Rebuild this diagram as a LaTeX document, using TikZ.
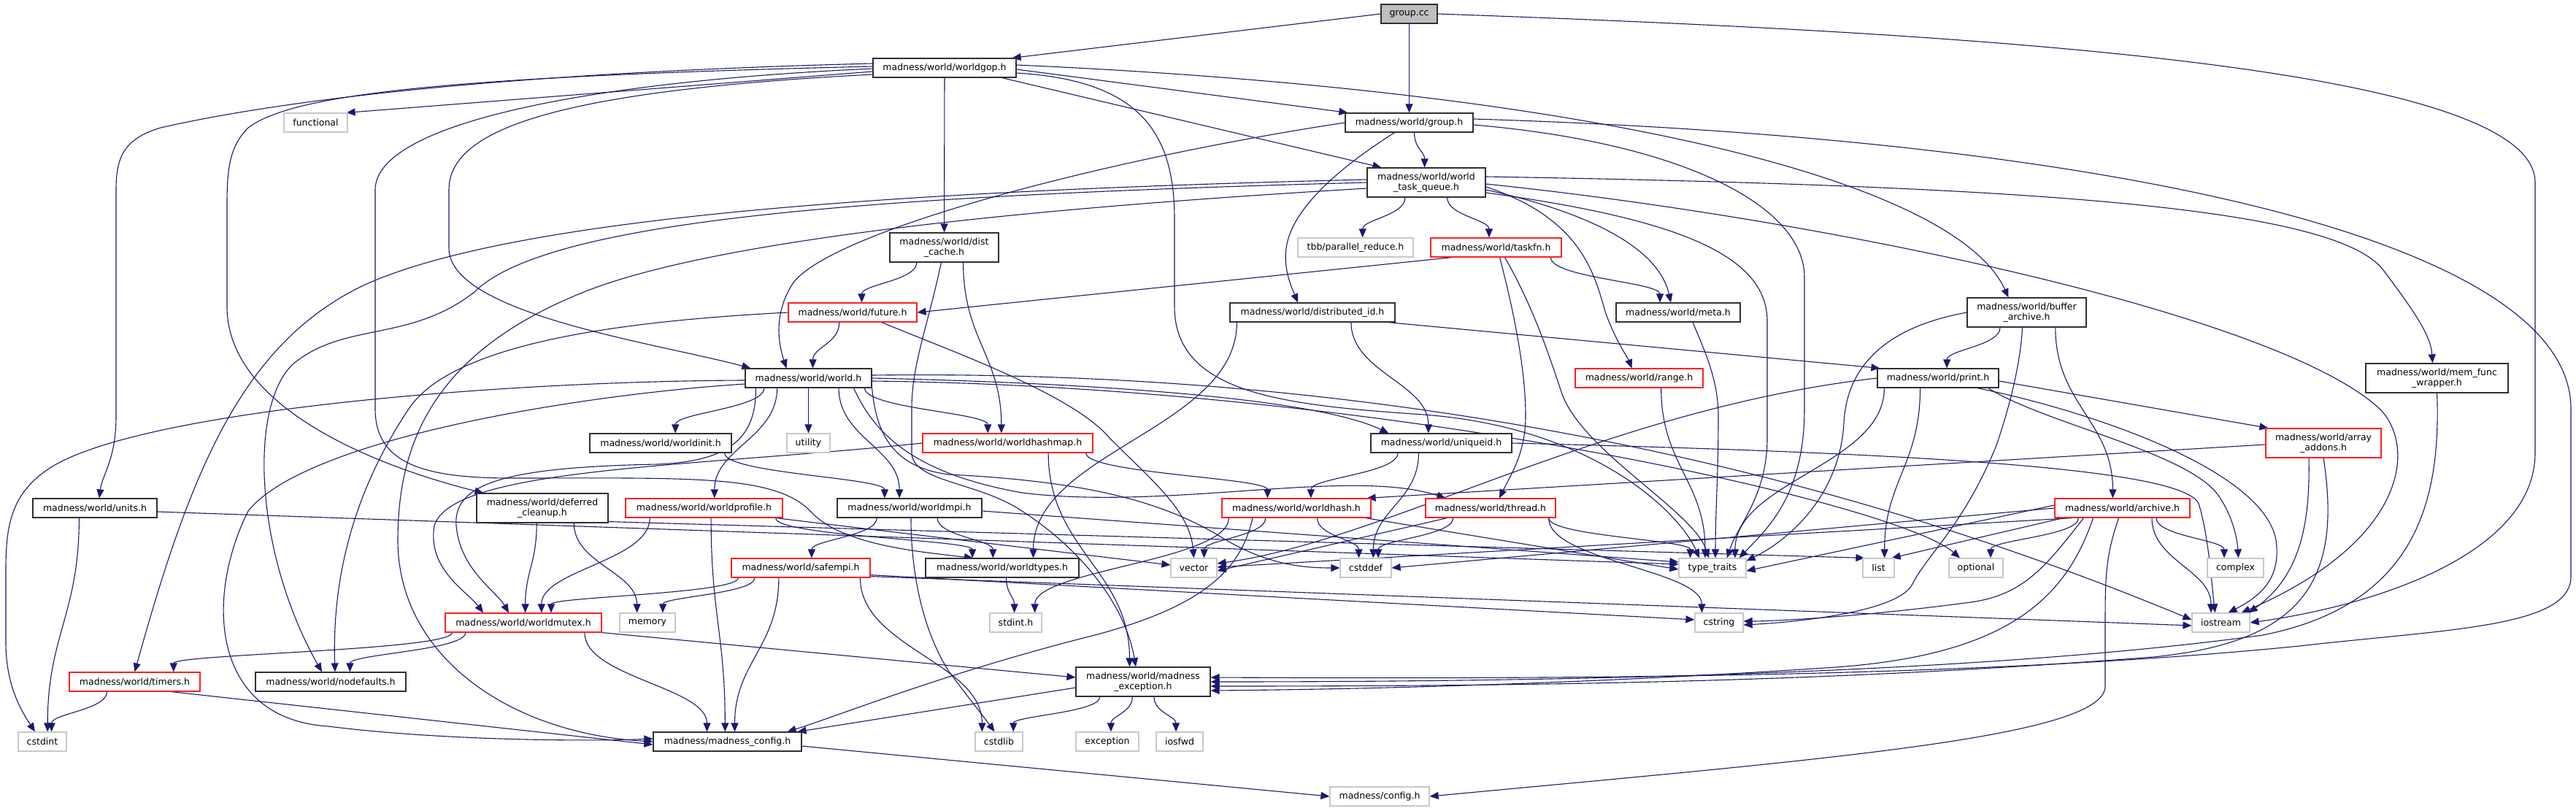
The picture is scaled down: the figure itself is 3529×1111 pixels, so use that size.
\documentclass[tikz,border=0pt]{standalone}
\usepackage{fontspec}
\setmainfont{DejaVu Sans}
\usetikzlibrary{arrows.meta,calc}
\definecolor{edgecol}{HTML}{191970}
\definecolor{redb}{HTML}{FF2020}
\definecolor{grayb}{HTML}{C8C8C8}
\definecolor{rootfill}{HTML}{BFBFBF}
\definecolor{darkb}{HTML}{303030}
\pgfdeclarelayer{edgelayer}
\pgfsetlayers{edgelayer,main}
\newcommand\edg[2]{%
  \draw[conn] let \p1=(#1.south), \p2=(#2.north), \p3=(#1.south east), \p4=(#2.north east),
    \n1={max(2*\x1-\x3+10pt,min(\x3-10pt,\x1+0.3*(\x2-\x1)))},
    \n2={max(2*\x2-\x4+10pt,min(\x4-10pt,\x2+0.1*(\x1-\x2)))},
    \n3={0.45*(\y1-\y2)}
  in (\n1,\y1) .. controls (\n1,\y1-\n3) and (\n2,\y2+\n3) .. (\n2,\y2);}
\begin{document}
\begin{tikzpicture}[x=1pt,y=-1pt,
  nbase/.style={rectangle, inner sep=0pt, minimum height=26pt, font=\fontsize{12.5}{14.5}\selectfont, align=center, line width=1.2pt, fill=white, text=black},
  nd/.style={nbase, draw=darkb},
  rd/.style={nbase, draw=redb},
  gy/.style={nbase, draw=grayb},
  rootbox/.style={nbase, draw=darkb, fill=rootfill},
  two/.style={minimum height=40pt},
  conn/.style={draw=edgecol, line width=1.1pt, -{Triangle[length=12pt,width=10pt]}}]
\useasboundingbox (0,0) rectangle (3529,1111);

\node[rootbox, minimum width=77pt] (gcc) at (1930.5,19) {group.cc};
\node[nd, minimum width=196pt] (worldgop) at (1294,93) {madness/world/worldgop.h};
\node[gy, minimum width=87pt] (functional) at (432.5,168) {functional};
\node[nd, minimum width=175pt] (grouph) at (1930.5,168) {madness/world/group.h};
\node[nd, two, minimum width=162pt] (taskq) at (1954,250) {madness/world/world\\\_task\_queue.h};
\node[nd, two, minimum width=149pt] (distcache) at (1293.5,339) {madness/world/dist\\\_cache.h};
\node[gy, minimum width=158pt] (tbb) at (1857,339) {tbb/parallel\_reduce.h};
\node[rd, minimum width=179pt] (taskfn) at (2049.5,339) {madness/world/taskfn.h};
\node[rd, minimum width=176pt] (future) at (1168,428) {madness/world/future.h};
\node[nd, minimum width=226pt] (distid) at (1798,428) {madness/world/distributed\_id.h};
\node[nd, minimum width=170pt] (meta) at (2299,428) {madness/world/meta.h};
\node[nd, two, minimum width=163pt] (bufarch) at (2776.5,428) {madness/world/buffer\\\_archive.h};
\node[nd, minimum width=173pt] (world) at (1107.5,518) {madness/world/world.h};
\node[rd, minimum width=175pt] (range) at (2245.5,518) {madness/world/range.h};
\node[nd, minimum width=166pt] (print) at (2655,518) {madness/world/print.h};
\node[nd, two, minimum width=195pt] (memfunc) at (3338.5,518) {madness/world/mem\_func\\\_wrapper.h};
\node[nd, minimum width=194pt] (worldinit) at (905,607) {madness/world/worldinit.h};
\node[gy, minimum width=59pt] (utility) at (1107.5,607) {utility};
\node[rd, minimum width=233pt] (worldhashmap) at (1380.5,607) {madness/world/worldhashmap.h};
\node[nd, minimum width=193pt] (uniqueid) at (1974.5,607) {madness/world/uniqueid.h};
\node[rd, two, minimum width=158pt] (arrayaddons) at (3183,607) {madness/world/array\\\_addons.h};
\node[nd, minimum width=170pt] (units) at (130,696) {madness/world/units.h};
\node[nd, two, minimum width=180pt] (deferred) at (743,696) {madness/world/deferred\\\_cleanup.h};
\node[rd, minimum width=215pt] (worldprofile) at (964.5,696) {madness/world/worldprofile.h};
\node[nd, minimum width=198pt] (worldmpi) at (1246,696) {madness/world/worldmpi.h};
\node[rd, minimum width=204pt] (worldhash) at (1776,696) {madness/world/worldhash.h};
\node[rd, minimum width=178pt] (thread) at (2042,696) {madness/world/thread.h};
\node[rd, minimum width=185pt] (archive) at (2907.5,696) {madness/world/archive.h};
\node[rd, minimum width=190pt] (safempi) at (1097,778) {madness/world/safempi.h};
\node[nd, minimum width=210pt] (worldtypes) at (1373,778) {madness/world/worldtypes.h};
\node[gy, minimum width=63pt] (vector) at (1635.5,778) {vector};
\node[gy, minimum width=70pt] (cstddef) at (1871,778) {cstddef};
\node[gy, minimum width=92pt] (typetraits) at (2346,778) {type\_traits};
\node[gy, minimum width=43pt] (list) at (2573.5,778) {list};
\node[gy, minimum width=74pt] (optional) at (2707,778) {optional};
\node[gy, minimum width=77pt] (complex) at (3062.5,778) {complex};
\node[rd, minimum width=214pt] (worldmutex) at (717,853) {madness/world/worldmutex.h};
\node[gy, minimum width=76pt] (memory) at (887,853) {memory};
\node[gy, minimum width=71pt] (stdint) at (1391.5,853) {stdint.h};
\node[gy, minimum width=66pt] (cstring) at (2355,853) {cstring};
\node[gy, minimum width=79pt] (iostream) at (3042.5,853) {iostream};
\node[rd, minimum width=179pt] (timers) at (184.5,934) {madness/world/timers.h};
\node[nd, minimum width=206pt] (nodefaults) at (453,934) {madness/world/nodefaults.h};
\node[nd, two, minimum width=184pt] (mexc) at (1566,934) {madness/world/madness\\\_exception.h};
\node[nd, minimum width=203pt] (mconfig) at (996.5,1016) {madness/madness\_config.h};
\node[gy, minimum width=65pt] (cstdlib) at (1368.5,1016) {cstdlib};
\node[gy, minimum width=86pt] (exception) at (1517,1016) {exception};
\node[gy, minimum width=64pt] (iosfwd) at (1616,1016) {iosfwd};
\node[gy, minimum width=66pt] (cstdint) at (58,1016) {cstdint};
\node[gy, minimum width=136pt] (configh) at (1890,1091) {madness/config.h};

\begin{pgfonlayer}{edgelayer}
\fill[white] (0,0) rectangle (3529,1111);
% group.cc
\draw[conn] (gcc.west) -- ([xshift=-6pt]worldgop.north east);
\draw[conn] (gcc) -- (grouph);
\draw[conn] (gcc.east) .. controls (2700,45) and (3473,90) .. (3473,250) -- (3473,620) .. controls (3473,760) and (3250,830) .. (iostream.east);
% worldgop
\draw[conn] ([yshift=-5pt]worldgop.west) -- ([xshift=-2pt]functional.north east);
\draw[conn] ([yshift=6pt]worldgop.west) .. controls (600,102) and (330,150) .. (220,175) .. controls (170,190) and (159,215) .. (159,260) -- (159,570) .. controls (159,630) and (140,650) .. ([xshift=6pt]units.north);
\draw[conn] ([yshift=2pt]worldgop.west) .. controls (600,105) and (400,130) .. (340,175) .. controls (315,200) and (311,230) .. (311,280) -- (311,420) .. controls (311,560) and (520,640) .. ([xshift=10pt]deferred.north west);
\draw[conn] ([yshift=-1pt]worldgop.west) .. controls (800,112) and (514,170) .. (514,260) -- (514,560) .. controls (514,635) and (580,655) .. (700,655) .. controls (950,655) and (1060,650) .. (1110,700) .. controls (1150,745) and (1250,755) .. ([xshift=-40pt]worldtypes.north);
\draw[conn] ([yshift=-9pt]worldgop.west) .. controls (750,125) and (615,180) .. (615,260) -- (615,340) .. controls (615,430) and (900,470) .. ([xshift=8pt]world.north west);
\draw[conn] (worldgop) -- (distcache);
\draw[conn] ([yshift=-2pt]worldgop.east) -- ([xshift=4pt]grouph.north west);
\draw[conn] ([xshift=-20pt]worldgop.south east) -- ([xshift=20pt]taskq.north west);
\draw[conn] ([yshift=4pt]worldgop.east) .. controls (2200,125) and (2680,250) .. ([xshift=-25pt]bufarch.north);
\draw[conn] ([yshift=-7pt]worldgop.east) .. controls (1560,110) and (1609,180) .. (1609,300) -- (1609,420) .. controls (1609,540) and (1760,555) .. (1950,568) .. controls (2180,585) and (2300,700) .. ([xshift=-18pt]typetraits.north);
% group.h
\edg{grouph}{taskq}
\draw[conn] ([xshift=-20pt]grouph.south) .. controls (1850,220) and (1770,280) .. (1762,340) .. controls (1758,370) and (1770,395) .. ([xshift=-20pt]distid.north);
\draw[conn] (grouph.west) .. controls (1500,220) and (1130,320) .. (1085,390) .. controls (1060,430) and (1066,470) .. ([xshift=-30pt]world.north);
\draw[conn] ([yshift=-3pt]grouph.east) .. controls (2300,195) and (2472,280) .. (2472,380) -- (2472,560) .. controls (2472,680) and (2420,725) .. ([xshift=-10pt]typetraits.north east);
\draw[conn] ([yshift=5pt]grouph.east) .. controls (2900,190) and (3522,330) .. (3522,560) -- (3522,790) .. controls (3522,860) and (3350,862) .. (3150,885) .. controls (2700,930) and (2100,930) .. ([yshift=6pt]mexc.east);
% world_task_queue.h
\edg{taskq}{tbb}
\edg{taskq}{taskfn}
\draw[conn] ([yshift=-10pt]taskq.east) .. controls (2150,285) and (2270,330) .. ([xshift=-10pt]meta.north);
\draw[conn] ([yshift=-6pt]taskq.east) .. controls (2170,300) and (2185,380) .. (2200,430) .. controls (2215,470) and (2230,490) .. ([xshift=-10pt]range.north);
\draw[conn] ([yshift=-14pt]taskq.east) .. controls (2300,300) and (2421,350) .. (2421,440) -- (2421,600) .. controls (2421,680) and (2380,720) .. ([xshift=20pt]typetraits.north);
\draw[conn] ([yshift=-2pt]taskq.east) .. controls (2500,300) and (3120,430) .. (3260,560) .. controls (3310,610) and (3300,740) .. ([xshift=-12pt]iostream.north east);
\draw[conn] ([yshift=8pt]taskq.east) .. controls (2800,255) and (3200,285) .. (3265,370) .. controls (3310,430) and (3330,460) .. ([xshift=-6pt]memfunc.north);
\draw[conn] ([yshift=4pt]taskq.west) .. controls (1200,262) and (700,300) .. (500,390) .. controls (330,470) and (260,650) .. (timers.north);
\draw[conn] (taskq.west) .. controls (1200,268) and (750,300) .. (650,400) .. controls (560,470) and (470,440) .. (400,500) .. controls (340,560) and (350,760) .. ([xshift=-12pt]nodefaults.north);
\draw[conn] ([yshift=-8pt]taskq.west) .. controls (1500,280) and (1000,320) .. (800,400) .. controls (600,480) and (545,600) .. (545,740) .. controls (545,900) and (700,1005) .. (mconfig.west);
% dist_cache.h
\edg{distcache}{future}
\edg{distcache}{worldhashmap}
\draw[conn] ([xshift=-4pt]distcache.south) .. controls (1270,450) and (1249,500) .. (1249,560) -- (1249,620) .. controls (1249,660) and (1340,660) .. (1400,700) .. controls (1470,745) and (1540,820) .. ([xshift=-10pt]mexc.north);
% taskfn.h
\draw[conn] ([xshift=30pt]taskfn.south west) -- (future.east);
\edg{taskfn}{meta}
\draw[conn] ([xshift=5pt]taskfn.south) .. controls (2080,450) and (2090,520) .. (2090,570) .. controls (2090,620) and (2070,650) .. ([xshift=12pt]thread.north);
\draw[conn] ([xshift=12pt]taskfn.south) .. controls (2100,420) and (2120,480) .. (2140,540) .. controls (2170,620) and (2320,700) .. ([xshift=-5pt]typetraits.north);
% future.h
\edg{future}{world}
\draw[conn] (future.west) .. controls (850,440) and (620,470) .. (560,560) .. controls (480,680) and (455,800) .. ([xshift=6pt]nodefaults.north);
\draw[conn] ([xshift=40pt]future.south) .. controls (1300,480) and (1470,540) .. (1520,600) .. controls (1580,660) and (1630,700) .. (vector.north);
% distributed_id.h
\edg{distid}{uniqueid}
\edg{distid}{worldtypes}
\draw[conn] ([xshift=-10pt]distid.south east) -- ([xshift=4pt]print.north west);
% meta.h
\draw[conn] ([xshift=20pt]meta.south) .. controls (2335,480) and (2354,520) .. (2354,570) .. controls (2354,650) and (2350,700) .. ([xshift=4pt]typetraits.north);
% buffer_archive.h
\edg{bufarch}{print}
\edg{bufarch}{archive}
\draw[conn] (bufarch.west) .. controls (2600,445) and (2530,490) .. (2526,580) .. controls (2520,680) and (2450,740) .. ([yshift=-4pt]typetraits.north east);
\draw[conn] ([xshift=-6pt]bufarch.south) .. controls (2768,500) and (2752,560) .. (2735,610) .. controls (2690,720) and (2640,760) .. (2620,800) .. controls (2600,840) and (2450,853) .. ([yshift=-3pt]cstring.east);
% world.h
\edg{world}{worldinit}
\edg{world}{utility}
\edg{world}{worldhashmap}
\edg{world}{worldprofile}
\edg{world}{worldmpi}
\draw[conn] (world.east) .. controls (1500,525) and (1800,545) .. ([xshift=25pt]uniqueid.north west);
\draw[conn] ([xshift=-25pt]world.south east) .. controls (1200,600) and (1260,650) .. (1400,675) .. controls (1600,700) and (1850,640) .. ([xshift=28pt]thread.north west);
\draw[conn] ([xshift=15pt]world.south west) .. controls (1036,600) and (1000,632) .. (900,636) .. controls (700,640) and (620,660) .. (625,720) .. controls (630,780) and (680,810) .. ([xshift=-20pt]worldmutex.north);
\draw[conn] ([yshift=-3pt]world.west) .. controls (700,522) and (200,560) .. (70,640) .. controls (15,675) and (8,720) .. (8,780) -- (8,880) .. controls (8,940) and (30,975) .. ([xshift=-10pt]cstdint.north);
\draw[conn] ([yshift=-8pt]world.west) .. controls (800,540) and (420,600) .. (340,700) .. controls (280,820) and (290,985) .. (450,995) .. controls (600,1014) and (800,1016) .. ([yshift=4pt]mconfig.west);
\draw[conn] (world.south east) .. controls (1200,590) and (1220,640) .. (1300,650) .. controls (1500,660) and (1600,690) .. (1680,740) .. controls (1740,775) and (1790,778) .. (cstddef.west);
\draw[conn] ([yshift=-4pt]world.east) .. controls (1900,530) and (2600,690) .. ([xshift=-22pt]optional.north);
\draw[conn] ([yshift=4pt]world.east) .. controls (1900,505) and (2500,640) .. ([yshift=4pt]iostream.west);
% range.h, print.h
\edg{range}{typetraits}
\draw[conn] ([yshift=-4pt]print.east) -- ([xshift=4pt]arrayaddons.north west);
\draw[conn] ([xshift=-15pt]print.south east) .. controls (2800,580) and (3000,620) .. (3040,680) .. controls (3060,710) and (3065,740) .. ([xshift=4pt]complex.north);
\draw[conn] ([xshift=-30pt]print.south east) .. controls (2850,560) and (3100,640) .. (3118,740) .. controls (3125,790) and (3100,815) .. ([xshift=10pt]iostream.north);
\edg{print}{list}
\edg{print}{typetraits}
\draw[conn] (print.west) .. controls (2200,560) and (1900,740) .. ([yshift=6pt]vector.east);
% mem_func_wrapper.h, array_addons.h
\draw[conn] (memfunc.south) .. controls (3345,700) and (3300,830) .. (3100,870) .. controls (2700,925) and (2100,934) .. (mexc.east);
\draw[conn] ([xshift=-20pt]arrayaddons.south) .. controls (3165,720) and (3150,790) .. ([xshift=-2pt]iostream.north east);
\draw[conn] (arrayaddons.south) .. controls (3210,800) and (3150,880) .. (2950,900) .. controls (2500,935) and (2100,940) .. ([yshift=-6pt]mexc.east);
\draw[conn] ([yshift=-2pt]arrayaddons.west) -- ([xshift=-6pt]worldhash.north east);
% uniqueid.h
\edg{uniqueid}{worldhash}
\edg{uniqueid}{cstddef}
\draw[conn] (uniqueid.east) .. controls (2600,620) and (2990,640) .. (3012,690) .. controls (3025,730) and (3030,800) .. ([xshift=-8pt]iostream.north);
% worldinit.h, worldhashmap.h
\edg{worldinit}{worldmpi}
\edg{worldhashmap}{worldhash}
\edg{worldhashmap}{mexc}
\draw[conn] (worldhashmap.west) .. controls (950,640) and (620,640) .. (595,720) .. controls (585,780) and (640,810) .. ([xshift=-55pt]worldmutex.north);
% units.h
\edg{units}{cstdint}
\draw[conn] ([yshift=-5pt]units.east) -- ([yshift=5pt]typetraits.west);
% deferred_cleanup.h
\edg{deferred}{worldmutex}
\edg{deferred}{memory}
\draw[conn] ([yshift=2pt]deferred.south east) -- ([xshift=3pt]list.north west);
% worldprofile.h
\edg{worldprofile}{worldmutex}
\edg{worldprofile}{mconfig}
\edg{worldprofile}{worldtypes}
\draw[conn] ([xshift=-10pt]worldprofile.south east) -- ([yshift=4pt]vector.west);
% worldmpi.h
\edg{worldmpi}{safempi}
\edg{worldmpi}{worldtypes}
\draw[conn] ([xshift=2pt]worldmpi.south) .. controls (1248,780) and (1262,860) .. (1300,920) .. controls (1330,960) and (1350,985) .. ([xshift=-6pt]cstdlib.north);
\draw[conn] ([yshift=-4pt]worldmpi.east) -- ([yshift=8pt]typetraits.west);
% worldhash.h
\edg{worldhash}{cstddef}
\edg{worldhash}{stdint}
\edg{worldhash}{vector}
\draw[conn] ([xshift=-60pt]worldhash.south) .. controls (1700,780) and (1650,830) .. (1500,870) .. controls (1300,920) and (1150,980) .. ([xshift=-20pt]mconfig.north east);
\draw[conn] ([xshift=-8pt]worldhash.south east) -- ([yshift=-2pt]typetraits.west);
% thread.h
\edg{thread}{cstddef}
\edg{thread}{typetraits}
\edg{thread}{cstring}
\draw[conn] ([xshift=30pt]thread.south west) -- ([yshift=-4pt]vector.east);
% archive.h
\draw[conn] ([yshift=4pt]archive.west) -- ([yshift=-4pt]typetraits.east);
\draw[conn] ([xshift=12pt]archive.south west) -- ([xshift=-4pt]list.north east);
\draw[conn] (archive.west) -- (cstddef.east);
\draw[conn] ([xshift=25pt]archive.south west) -- ([yshift=1pt]vector.east);
\edg{archive}{optional}
\edg{archive}{complex}
\edg{archive}{iostream}
\draw[conn] ([xshift=40pt]archive.south west) .. controls (2800,780) and (2770,815) .. (2700,825) .. controls (2550,845) and (2430,851) .. ([yshift=2pt]cstring.east);
\draw[conn] ([xshift=-40pt]archive.south) .. controls (2830,820) and (2750,900) .. (2500,915) .. controls (2200,935) and (1900,944) .. ([yshift=-12pt]mexc.east);
\draw[conn] ([xshift=-5pt]archive.south) .. controls (2885,760) and (2884,790) .. (2884,850) -- (2884,940) .. controls (2884,1010) and (2500,1040) .. (configh.east);
% safempi.h
\edg{safempi}{worldmutex}
\edg{safempi}{memory}
\edg{safempi}{mconfig}
\edg{safempi}{cstdlib}
\draw[conn] ([yshift=4pt]safempi.south east) -- ([yshift=4pt]cstring.west);
\draw[conn] ([yshift=2pt]safempi.south east) -- ([yshift=-4pt]iostream.west);
% worldtypes.h, worldmutex.h, timers.h
\edg{worldtypes}{stdint}
\edg{worldmutex}{timers}
\edg{worldmutex}{nodefaults}
\edg{worldmutex}{mconfig}
\draw[conn] (worldmutex.south east) -- ([yshift=6pt]mexc.west);
\edg{timers}{cstdint}
\draw[conn] ([xshift=-40pt]timers.south east) -- ([yshift=-4pt]mconfig.west);
% madness_exception.h, madness_config.h
\draw[conn] ([yshift=-8pt]mexc.west) -- ([xshift=-6pt]mconfig.north east);
\edg{mexc}{cstdlib}
\edg{mexc}{exception}
\edg{mexc}{iosfwd}
\draw[conn] ([yshift=-6pt]mconfig.east) -- (configh.west);
\end{pgfonlayer}
\end{tikzpicture}
\end{document}
